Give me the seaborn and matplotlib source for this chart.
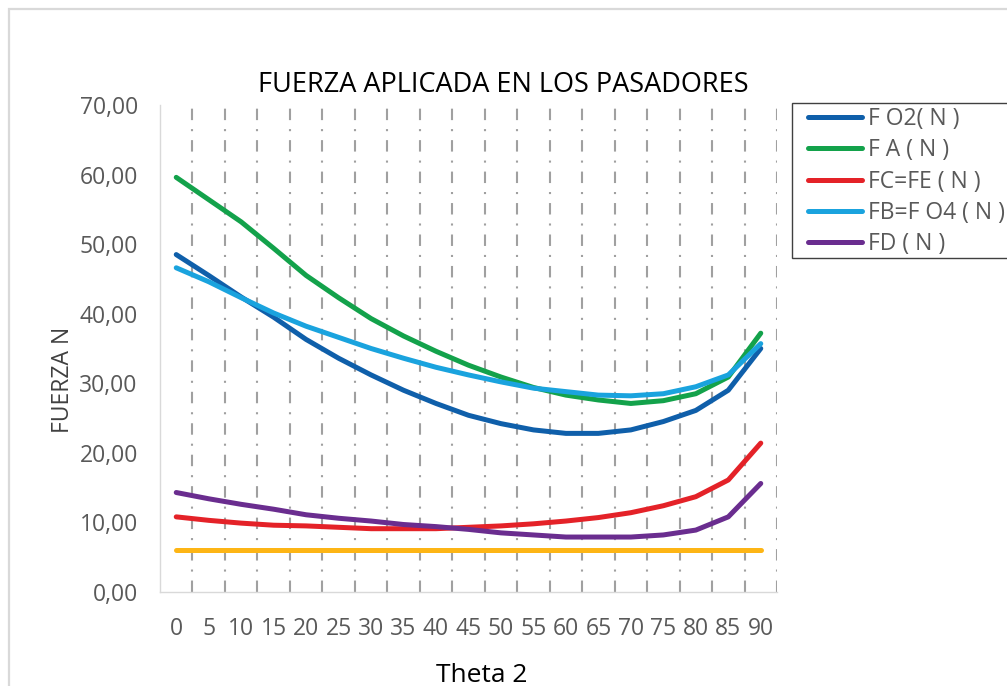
import numpy as np
import pandas as pd
import matplotlib
matplotlib.use("Agg")
import matplotlib.pyplot as plt
import seaborn as sns
from matplotlib.lines import Line2D
from matplotlib.patches import Rectangle

# Crank angle (degrees)
theta_2 = [0, 5, 10, 15, 20, 25, 30, 35, 40, 45, 50, 55, 60, 65, 70, 75, 80, 85, 90]

# Pin forces (N)
f_o2 = [48.5, 45.5, 42.4, 39.5, 36.3, 33.6, 31.2, 29.0, 27.1, 25.4, 24.2, 23.3, 22.8, 22.8, 23.3, 24.5, 26.1, 29.0, 35.0]
f_a = [59.6, 56.4, 53.2, 49.4, 45.5, 42.3, 39.3, 36.8, 34.6, 32.6, 30.9, 29.4, 28.3, 27.6, 27.1, 27.5, 28.5, 30.9, 37.2]
f_c = [10.8, 10.3, 9.9, 9.6, 9.5, 9.3, 9.1, 9.1, 9.1, 9.3, 9.5, 9.8, 10.2, 10.7, 11.4, 12.4, 13.7, 16.1, 21.4]
f_b = [46.6, 44.6, 42.3, 40.1, 38.2, 36.6, 35.0, 33.6, 32.3, 31.2, 30.2, 29.3, 28.8, 28.3, 28.2, 28.5, 29.5, 31.2, 35.7]
f_d = [14.3, 13.4, 12.6, 11.9, 11.1, 10.6, 10.2, 9.7, 9.4, 9.0, 8.5, 8.2, 7.9, 7.9, 7.9, 8.2, 8.9, 10.8, 15.6]
f_const = [6.0] * 19

series_names = ["F O2( N )", "F A ( N )", "FC=FE ( N )", "FB=F O4 ( N )", "FD ( N )"]
series_colors = ["#0F5FAA", "#13A24B", "#E42228", "#1AA3DE", "#6A2D8F"]
const_color = "#FDB515"

y_ticks = [0, 10, 20, 30, 40, 50, 60, 70]

sns.set_style("white")
plt.rcParams["font.family"] = ["Open Sans", "DejaVu Sans"]

W, H = 1007, 686
fig = plt.figure(figsize=(W / 100, H / 100), dpi=100)
fig.patch.set_facecolor("white")

# chart-area border
fig.patches.append(Rectangle((9 / W, -0.1), 1.2, 1.1 - 9 / H, transform=fig.transFigure,
                             fill=False, edgecolor="#D9D9D9", linewidth=1.6, zorder=0))

ax = fig.add_axes([160 / W, 1 - 592 / H, 617 / W, 487 / H])

pos = np.arange(len(theta_2))
df = pd.DataFrame({
    "pos": np.tile(pos, len(series_names)),
    "valor": np.concatenate([f_o2, f_a, f_c, f_b, f_d]),
    "serie": np.repeat(series_names, len(pos)),
})

sns.lineplot(x=pos, y=f_const, color=const_color, linewidth=3.6, ax=ax, legend=False)
sns.lineplot(data=df, x="pos", y="valor", hue="serie", hue_order=series_names,
             palette=series_colors, linewidth=3.6, ax=ax, legend=False, sort=False)

ax.set_xlim(-0.5, len(theta_2) - 0.5)
ax.set_ylim(0, 70)
ax.set_xticks(pos)
ax.set_xticklabels([str(t) for t in theta_2])
ax.set_yticks(y_ticks)
ax.set_yticklabels([f"{v:.2f}".replace(".", ",") for v in y_ticks])
ax.set_xticks(np.arange(0.5, len(theta_2), 1.0), minor=True)
ax.set_xlabel("")
ax.set_ylabel("")

ax.grid(False)
ax.grid(which="minor", axis="x", color="#A0A0A0", linewidth=1.5,
        linestyle=(0, (5.5, 4.3, 1.0, 4.3)))
ax.tick_params(axis="both", which="both", length=0, colors="#595959", labelsize=16.5)
ax.tick_params(axis="y", pad=16)
ax.tick_params(axis="x", pad=18)
for side in ["top", "right"]:
    ax.spines[side].set_visible(False)
for side in ["left", "bottom"]:
    ax.spines[side].set_color("#D9D9D9")
    ax.spines[side].set_linewidth(1.0)

fig.text(503 / W, 1 - 91.5 / H, "FUERZA APLICADA EN LOS PASADORES", ha="center",
         va="baseline", fontsize=19.5, color="black")
fig.text(63 / W, 1 - 380 / H, "FUERZA N", rotation=90, ha="center", va="center",
         fontsize=16.5, color="#404040")
fig.text(481.5 / W, 1 - 682 / H, "Theta 2", ha="center", va="baseline",
         fontsize=19, color="black")

# legend frame and entries
fig.patches.append(Rectangle((792 / W, 1 - 258 / H), 0.3, 155 / H, transform=fig.transFigure,
                             fill=True, facecolor="white", edgecolor="#404040",
                             linewidth=1.0, zorder=1))
handles = [Line2D([], [], color=c, linewidth=3.6) for c in series_colors]
leg = fig.legend(handles, series_names, loc="upper left",
                 bbox_to_anchor=(808 / W, 1 - 107 / H), frameon=False,
                 fontsize=16.5, handlelength=2.35, handletextpad=0.25,
                 labelspacing=0.32, borderpad=0, borderaxespad=0)
for t in leg.get_texts():
    t.set_color("#595959")

fig.savefig("out.png", dpi=100, facecolor="white")
